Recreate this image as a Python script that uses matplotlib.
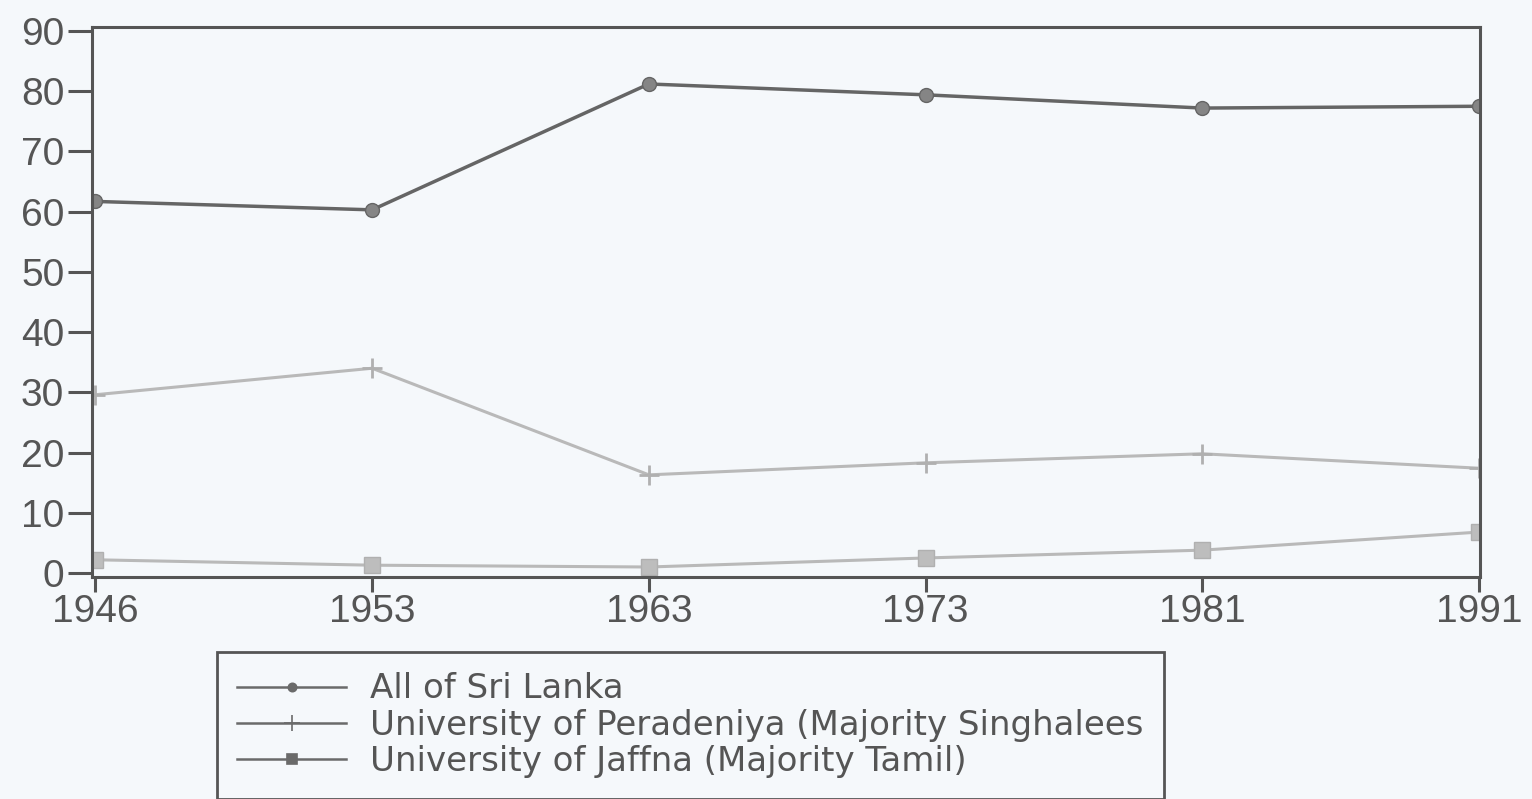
import matplotlib
matplotlib.use("Agg")
import matplotlib.pyplot as plt

years = ["1946", "1953", "1963", "1973", "1981", "1991"]
all_sri_lanka = [61.7, 60.3, 81.2, 79.4, 77.2, 77.5]
peradeniya = [29.6, 34.0, 16.3, 18.3, 19.8, 17.4]
jaffna = [2.2, 1.3, 1.0, 2.5, 3.8, 6.8]
labels = ["All of Sri Lanka",
          "University of Peradeniya (Majority Singhalees",
          "University of Jaffna (Majority Tamil)"]
y_ticks = list(range(0, 91, 10))

bg = "#f5f8fb"
ink = "#555555"

W, H = 1532, 799
fig = plt.figure(figsize=(W / 100, H / 100), dpi=100, facecolor=bg)
ax = fig.add_axes([92 / W, 1 - 577 / H, (1480 - 92) / W, (577 - 27) / H])
ax.set_facecolor(bg)

x = list(range(len(years)))
l1, = ax.plot(x, all_sri_lanka, color="#656565", lw=2.5, marker="o",
              ms=10, mfc="#858585", mec="#656565", label=labels[0])
l2, = ax.plot(x, peradeniya, color="#b9b9b9", lw=2.2, marker="+",
              ms=14, mew=2, mec="#b0b0b0", label=labels[1])
l3, = ax.plot(x, jaffna, color="#b9b9b9", lw=2.2, marker="s",
              ms=11, mfc="#bdbdbd", mec="#b0b0b0", label=labels[2])

ax.set_xlim(-0.012, 5.003)
ax.set_ylim(-0.66, 90.66)
ax.set_xticks(x)
ax.set_xticklabels(years)
ax.set_yticks(y_ticks)

for s in ax.spines.values():
    s.set_color(ink)
    s.set_linewidth(2.2)

ax.tick_params(axis="y", length=17, width=2.2, pad=3, color=ink,
               labelcolor=ink, labelsize=28)
ax.tick_params(axis="x", length=11, width=2.2, pad=1, color=ink,
               labelcolor=ink, labelsize=28)
for t in ax.get_xticklabels() + ax.get_yticklabels():
    t.set_family("Liberation Sans")

leg = fig.legend(handles=[l1, l2, l3], loc="upper left",
                 bbox_to_anchor=(217 / W, 1 - 652 / H),
                 bbox_transform=fig.transFigure, borderaxespad=0,
                 prop={"family": "DejaVu Sans", "size": 24.5},
                 handlelength=3.2, handletextpad=0.7, labelspacing=0.1,
                 borderpad=0.6, fancybox=False, facecolor=bg, framealpha=1,
                 edgecolor=ink, labelcolor=ink)
leg.get_frame().set_linewidth(2.0)
for h, ms in zip(leg.legend_handles, [6, 12, 7]):
    h.set_color("#6a6a6a")
    h.set_markeredgecolor("#6a6a6a")
    h.set_markerfacecolor("#6a6a6a")
    h.set_linewidth(1.8)
    h.set_markersize(ms)
    h.set_markeredgewidth(1.2)

fig.savefig("out.png", dpi=100, facecolor=bg)
